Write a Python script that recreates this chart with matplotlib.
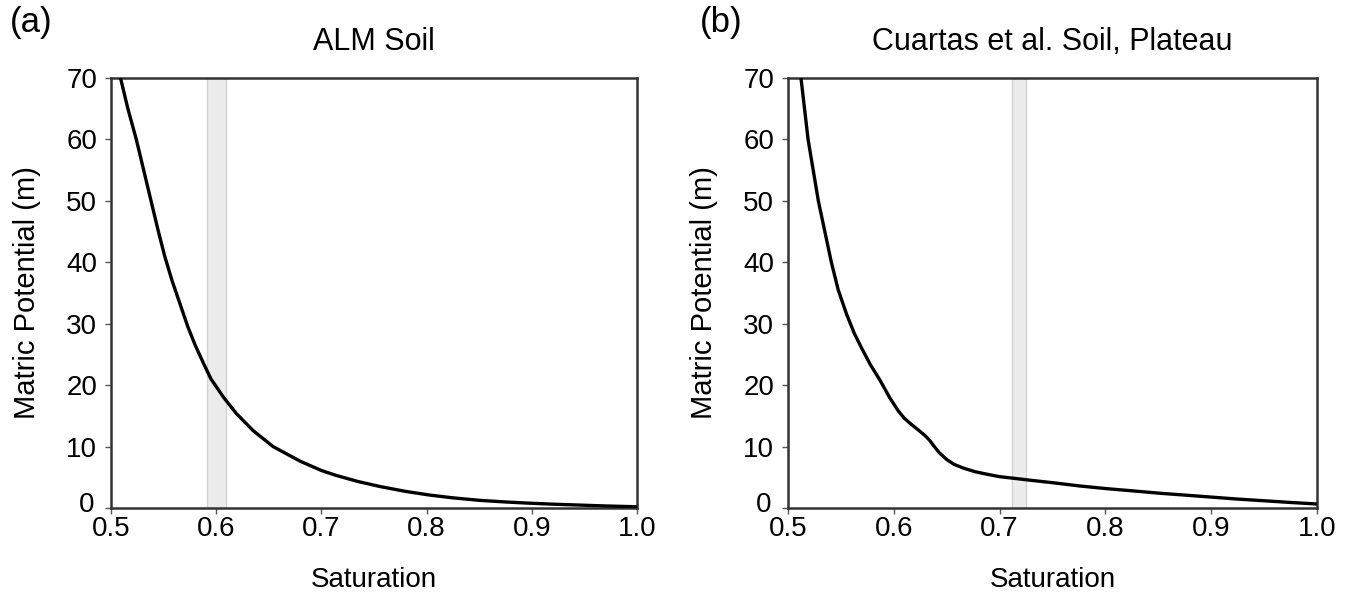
import matplotlib
matplotlib.use("Agg")
import matplotlib.pyplot as plt
from matplotlib.transforms import ScaledTranslation

plt.rcParams['font.family'] = ['Liberation Sans', 'DejaVu Sans']

# Panel (a): ALM soil
sat_a = [0.509, 0.516, 0.524, 0.531, 0.538, 0.545, 0.551, 0.558, 0.566, 0.573,
         0.580, 0.588, 0.595, 0.607, 0.619, 0.635, 0.654, 0.680, 0.700, 0.714,
         0.735, 0.7555, 0.780, 0.803, 0.825, 0.850, 0.875, 0.898, 0.920, 0.946,
         0.970, 1.0]
psi_a = [70, 65, 60, 55, 50, 45, 41, 37, 33, 29.5,
         26.5, 23.5, 21, 18, 15.4, 12.6, 10, 7.6, 6.1, 5.3,
         4.3, 3.5, 2.7, 2.1, 1.65, 1.25, 0.98, 0.78, 0.62, 0.47,
         0.33, 0.2]
band_a = (0.591, 0.609)

# Panel (b): Cuartas et al. soil, plateau
sat_b = [0.5123, 0.519, 0.5287, 0.541, 0.5475, 0.5555, 0.5625, 0.5697, 0.578,
         0.587, 0.596, 0.6043, 0.610, 0.6153, 0.6225, 0.6295, 0.634, 0.6374,
         0.643, 0.650, 0.657, 0.6657, 0.677, 0.688, 0.700, 0.7127, 0.730,
         0.751, 0.775, 0.801, 0.825, 0.8516, 0.875, 0.902, 0.925, 0.9525,
         0.975, 1.0]
psi_b = [70, 60, 50, 40, 35.5, 31.5, 28.5, 26, 23.3,
         20.8, 18, 15.8, 14.6, 13.8, 12.8, 11.8, 11.0, 10.2,
         9.0, 7.9, 7.1, 6.5, 5.9, 5.5, 5.1, 4.85, 4.5,
         4.1, 3.6, 3.15, 2.8, 2.4, 2.1, 1.75, 1.45, 1.15,
         0.9, 0.65]
band_b = (0.712, 0.725)

titles = ["ALM Soil", "Cuartas et al. Soil, Plateau"]
letters = ["(a)", "(b)"]
xticks = [0.5, 0.6, 0.7, 0.8, 0.9, 1.0]
yticks = [0, 10, 20, 30, 40, 50, 60, 70]

fig = plt.figure(figsize=(13.56, 5.94), dpi=100)
ax_a = fig.add_axes([0.0819, 0.1448, 0.3879, 0.7239])
ax_b = fig.add_axes([0.5811, 0.1448, 0.3901, 0.7239])

for ax, xs, ys, band, title in [(ax_a, sat_a, psi_a, band_a, titles[0]),
                                (ax_b, sat_b, psi_b, band_b, titles[1])]:
    ax.axvspan(band[0], band[1], facecolor='#ececec', edgecolor='#d2d2d2', lw=1.0, zorder=1)
    ax.plot(xs, ys, color='black', lw=2.4, zorder=3, solid_capstyle='butt',
            solid_joinstyle='round')
    ax.set_xlim(0.5, 1.0)
    ax.set_ylim(0, 70)
    ax.set_xticks(xticks)
    ax.set_xticklabels([f"{v:.1f}" for v in xticks])
    ax.set_yticks(yticks)
    ax.set_yticklabels([str(v) for v in yticks])
    ax.tick_params(direction='out', length=4, width=1, labelsize=20, color='#555555')
    ax.tick_params(axis='x', pad=2)
    ax.tick_params(axis='y', pad=6)
    for s in ax.spines.values():
        s.set_linewidth(1.8)
        s.set_color('#333333')
    ax.set_xlabel("Saturation", fontsize=20, labelpad=18)
    ax.set_ylabel("Matric Potential (m)", fontsize=21, labelpad=18)
    ax.set_title(title, fontsize=22, pad=20)
    # nudge the bottom y label up slightly so it doesn't collide with "0.5"
    lbl0 = ax.get_yticklabels()[0]
    lbl0.set_transform(lbl0.get_transform() + ScaledTranslation(-2 / 72, 4 / 72, fig.dpi_scale_trans))

fig.text(0.007, 0.962, letters[0], fontsize=25, va='center', ha='left')
fig.text(0.516, 0.962, letters[1], fontsize=25, va='center', ha='left')

fig.savefig("out.png", dpi=100)
